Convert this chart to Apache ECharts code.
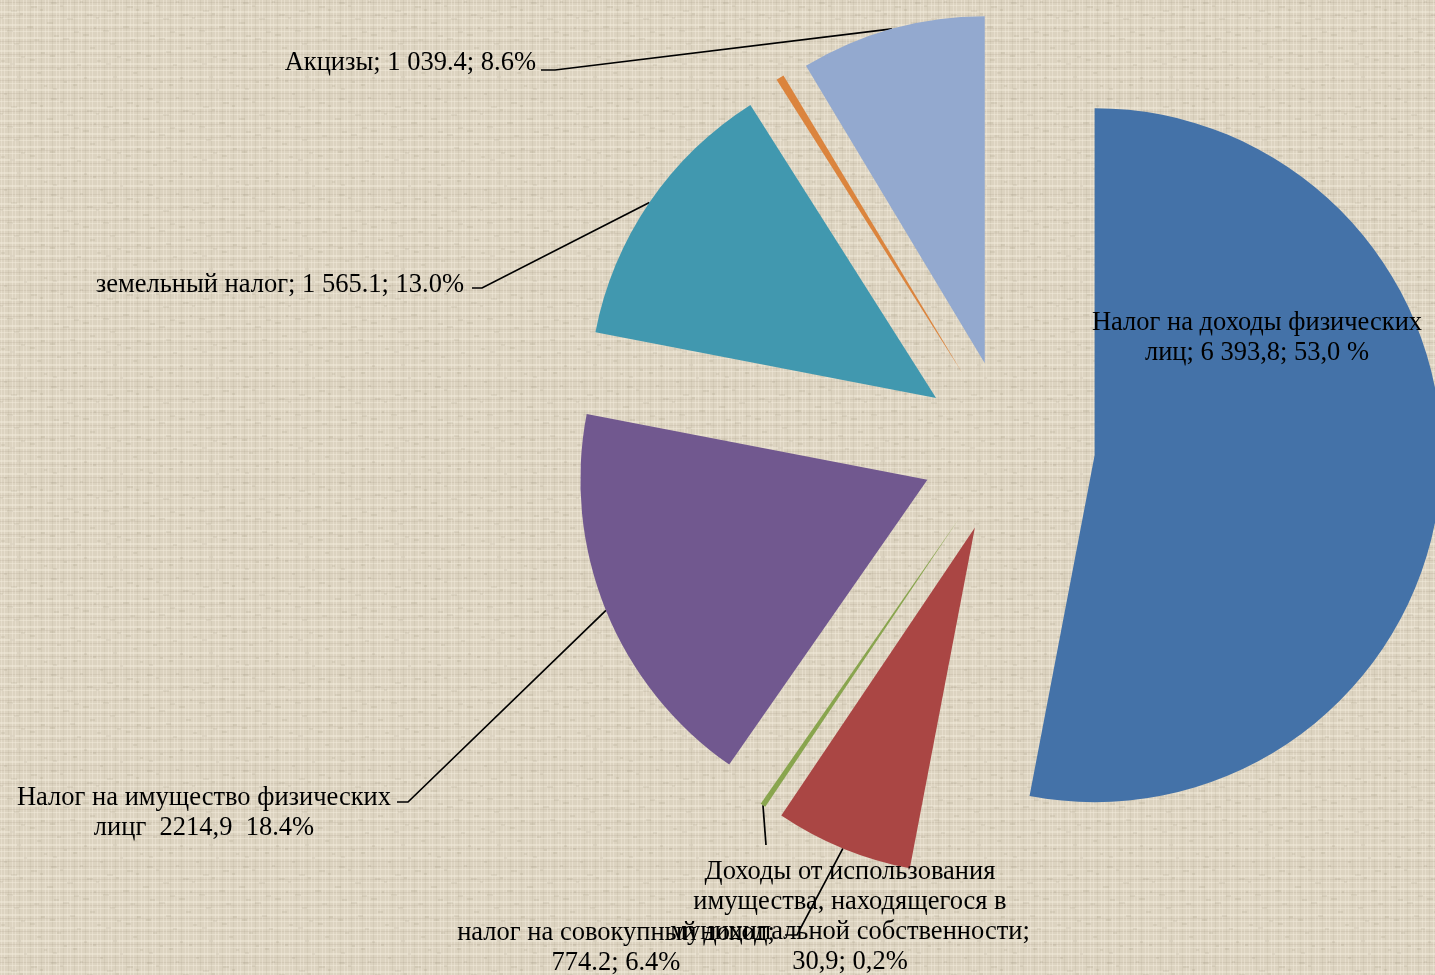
<!DOCTYPE html>
<html>
<head>
<meta charset="utf-8">
<script src="https://cdn.jsdelivr.net/npm/echarts@6/dist/echarts.min.js"></script>
<style>
html,body{margin:0;padding:0;}
#main{width:1435px;height:975px;}
</style>
</head>
<body>
<div id="main"></div>
<script>
var names = ['Налог на доходы физических лиц', 'налог на совокупный доход',
	'Доходы от использования имущества', 'Налог на имущество физических лиц',
	'земельный налог', 'прочие', 'Акцизы'];
var values = [6393.8, 774.2, 30.9, 2214.9, 1565.1, 45, 1039.4];
var labelTexts = [
	'Налог на доходы физических\nлиц; 6 393,8; 53,0 %',
	'налог на совокупный доход;\n774.2; 6.4%',
	'Доходы от использования\nимущества, находящегося в\nмуниципальной собственности;\n30,9; 0,2%',
	'Налог на имущество физических\nлицг  2214,9  18.4%',
	'земельный налог; 1 565.1; 13.0%',
	'',
	'Акцизы; 1 039.4; 8.6%'
];
var colors = ['#4472a8', '#aa4644', '#89a54e', '#71588f', '#4198af', '#db843d', '#93a9cf'];

// pie placement, explode distance
var pieCenter = [1008, 447];
var pieRadius = 347;
var explode = 87;

// where each label sits and where its leader bends
var labelPos = [
	{x:1257, y:338, align:'center', line:null},
	{x:616, y:948, align:'center', line:[[797,935],[785,935]]},
	{x:850, y:917, align:'center', line:[[766,845]]},
	{x:204, y:813, align:'center', line:[[408,802],[397,802]]},
	{x:464, y:285, align:'right', line:[[482,288],[472,288]]},
	null,
	{x:536, y:63, align:'right', line:[[555,70],[541,70]]}
];

// canvas texture roughly like burlap
function makeTexture(){
	var n = 96;
	var c = document.createElement('canvas');
	c.width = n; c.height = n;
	var g = c.getContext('2d');
	g.fillStyle = '#dcd3c0';
	g.fillRect(0,0,n,n);
	for(var i=0;i<n;i++){
		var k = (i*37+11)%13;
		if(k<3){ g.fillStyle = 'rgba(245,238,222,0.45)'; g.fillRect(0,i,n,1); }
		else if(k==7){ g.fillStyle = 'rgba(150,138,115,0.14)'; g.fillRect(0,i,n,1); }
		var m = (i*29+5)%11;
		if(m<2){ g.fillStyle = 'rgba(245,238,222,0.4)'; g.fillRect(i,0,1,n); }
		else if(m==6){ g.fillStyle = 'rgba(150,138,115,0.12)'; g.fillRect(i,0,1,n); }
	}
	// a few darker flecks
	for(var s=0;s<40;s++){
		var px = (s*53)%n, py = (s*71+17)%n;
		g.fillStyle = 'rgba(140,128,105,0.12)';
		g.fillRect(px, py, 3+(s%4), 2);
	}
	return c;
}

var total = 0;
for(var i=0;i<values.length;i++) total += values[i];

// one series per slice, each pushed out along its own middle angle
var series = [];
var cum = 0;
for(var i=0;i<values.length;i++){
	var mid = (cum + values[i]/2)/total*2*Math.PI;
	cum += values[i];
	var cx = pieCenter[0] + explode*Math.sin(mid);
	var cy = pieCenter[1] - explode*Math.cos(mid);
	var data = [];
	for(var j=0;j<values.length;j++){
		var item = {name: names[j], value: values[j]};
		if(j == i){
			item.itemStyle = {color: colors[j]};
			if(!labelPos[j]){
				item.label = {show:false};
				item.labelLine = {show:false};
			}else if(!labelPos[j].line){
				item.labelLine = {show:false};
			}
		}else{
			item.itemStyle = {color: 'rgba(0,0,0,0)'};
			item.label = {show:false};
			item.labelLine = {show:false};
		}
		data.push(item);
	}
	series.push({
		type: 'pie',
		center: [cx, cy],
		radius: [0, pieRadius],
		startAngle: 90,
		clockwise: true,
		silent: true,
		emphasis: {scale: false},
		avoidLabelOverlap: false,
		label: {
			show: true,
			formatter: function(p){ return labelTexts[p.dataIndex]; },
			color: '#000',
			fontFamily: 'Liberation Serif',
			fontSize: 26.5,
			lineHeight: 30,
			align: 'center'
		},
		labelLine: {
			show: true,
			length: 10,
			length2: 10,
			lineStyle: {color: '#000', width: 1.7}
		},
		labelLayout: function(params){
			var lp = labelPos[params.dataIndex];
			if(!lp) return {};
			var res = {x: lp.x, y: lp.y, align: lp.align, verticalAlign: 'middle'};
			if(lp.line && params.labelLinePoints){
				res.labelLinePoints = [params.labelLinePoints[0]].concat(lp.line);
			}
			return res;
		},
		data: data
	});
}

var myChart = echarts.init(document.getElementById('main'));
myChart.setOption({
	animation: false,
	backgroundColor: {image: makeTexture(), repeat: 'repeat'},
	series: series
});
</script>
</body>
</html>
